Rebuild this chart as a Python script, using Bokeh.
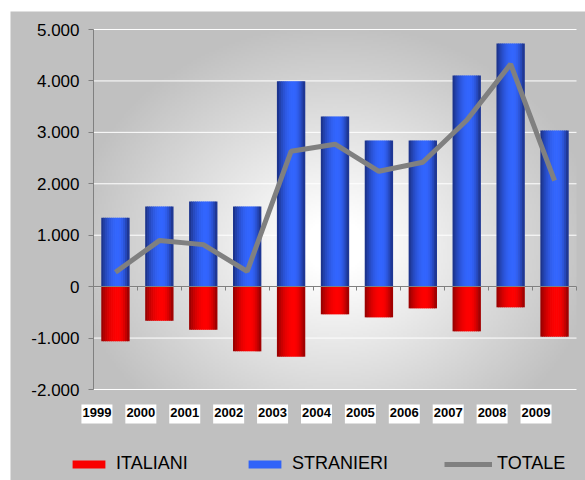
import numpy as np
from bokeh.plotting import figure
from bokeh.models import ColumnDataSource, FixedTicker, Range1d, Legend, LegendItem, LinearAxis
from bokeh.transform import dodge
from bokeh.embed import file_html
from bokeh.resources import INLINE

# ---- data ----
years = ["1999", "2000", "2001", "2002", "2003", "2004", "2005", "2006", "2007", "2008", "2009"]
italiani = [-1064, -661, -837, -1258, -1362, -538, -597, -422, -869, -402, -973]
stranieri = [1342, 1556, 1654, 1556, 3994, 3307, 2840, 2840, 4105, 4728, 3035]
totale = [278, 895, 817, 298, 2632, 2769, 2243, 2418, 3236, 4326, 2062]
y_ticks = [-2000, -1000, 0, 1000, 2000, 3000, 4000, 5000]
y_tick_labels = ["-2.000", "-1.000", "0", "1.000", "2.000", "3.000", "4.000", "5.000"]

n = len(years)
Y_MIN, Y_MAX = -2000, 5000
centers = [i + 0.5 for i in range(n)]
bounds = [i for i in range(n)]
src = ColumnDataSource(dict(x=centers, years=years, italiani=italiani,
                            stranieri=stranieri, totale=totale))

FONT = "Liberation Sans"
GRAY = "#c0c0c0"

# ---- layout (canvas pixels) ----
W, H = 575, 469
FX0 = 83            # canvas x of category axis start
PXC = 483 / n       # pixels per category
FY_TOP = 18         # canvas y of Y_MAX
DATA_H = 360        # pixel height of the value range
PXY = DATA_H / (Y_MAX - Y_MIN)
x_start = -FX0 / PXC
x_end = (W - FX0) / PXC
y_end = Y_MAX + FY_TOP / PXY
y_start = Y_MIN - (H - FY_TOP - DATA_H) / PXY

p = figure(width=W, height=H, output_backend="svg", toolbar_location=None,
           x_range=Range1d(x_start, x_end), y_range=Range1d(y_start, y_end),
           min_border=0, min_border_left=0, min_border_right=0,
           min_border_top=0, min_border_bottom=0)
p.styles = {"margin-left": "10px", "margin-top": "11px"}
p.background_fill_color = GRAY
p.border_fill_color = GRAY
p.outline_line_color = None
p.xgrid.visible = False
p.ygrid.visible = False

# radial background gradient of the plot area
IH, IW = 180, 240
yy, xx = np.mgrid[0:IH, 0:IW]
fx = (xx + 0.5) / IW
ftop = 1 - (yy + 0.5) / IH
r = np.sqrt(((fx - 0.5) / 0.55) ** 2 + ((ftop - 0.6) / 0.62) ** 2)
v = (255 - 63 * np.clip((r - 0.12) / 0.88, 0, 1)).astype(np.uint8)
img = np.empty((IH, IW), dtype=np.uint32)
view = img.view(dtype=np.uint8).reshape((IH, IW, 4))
view[..., 0] = v
view[..., 1] = v
view[..., 2] = v
view[..., 3] = 255
p.image_rgba(image=[img], x=0, y=Y_MIN, dw=n, dh=Y_MAX - Y_MIN, level="image")

# horizontal grid lines (only over the plot area)
p.segment(x0=0, x1=n, y0=y_ticks, y1=y_ticks, line_color="white", line_width=1)

# gradient bars built from strips
bw = 0.63
N = 14

def grad(dark, bright, u):
    if u < 0.6:
        t = 1 - ((u - 0.6) / 0.6) ** 2
    else:
        t = 1 - ((u - 0.6) / 0.4) ** 2
    c = [int(d + (b - d) * t) for d, b in zip(dark, bright)]
    return "#%02x%02x%02x" % tuple(c)

red_r = []
blue_r = []
for k in range(N):
    u = (k + 0.5) / N
    off = -bw / 2 + u * bw
    sw = bw / N * 1.35
    blue_r.append(p.vbar(x=dodge("x", off, range=p.x_range), top="stranieri", bottom=0, width=sw,
                         source=src, fill_color=grad((0x1a, 0x2e, 0x80), (0x33, 0x66, 0xff), u),
                         line_color=None))
    red_r.append(p.vbar(x=dodge("x", off, range=p.x_range), top=0, bottom="italiani", width=sw,
                        source=src, fill_color=grad((0x90, 0x00, 0x00), (0xff, 0x00, 0x00), u),
                        line_color=None))

line_r = p.line(x="x", y="totale", source=src, line_width=5, line_color="#808080")

# value axis at category start
p.yaxis.fixed_location = 0
p.yaxis.bounds = (Y_MIN, Y_MAX)
p.yaxis.ticker = FixedTicker(ticks=y_ticks)
p.yaxis.major_label_overrides = {t: l for t, l in zip(y_ticks, y_tick_labels)}
p.yaxis.major_label_text_font = FONT
p.yaxis.major_label_text_font_size = "17px"
p.yaxis.major_label_text_color = "black"
p.yaxis.major_label_standoff = 9
p.yaxis.axis_line_color = "#808080"
p.yaxis.major_tick_line_color = "#808080"
p.yaxis.major_tick_in = 0
p.yaxis.major_tick_out = 5
p.yaxis.minor_tick_line_color = None

# category axis line at zero with boundary ticks
p.xaxis.fixed_location = 0
p.xaxis.bounds = (0, n)
p.xaxis.ticker = FixedTicker(ticks=[], minor_ticks=bounds + [n])
p.xaxis.axis_line_color = "#808080"
p.xaxis.minor_tick_line_color = "#808080"
p.xaxis.minor_tick_in = 0
p.xaxis.minor_tick_out = 4
p.xaxis.major_tick_line_color = None

# year labels axis at the bottom of the value range, with white boxes
LAB_OFF = 0.078125
lab_x = [b + LAB_OFF for b in bounds]
box_y = Y_MIN - 24.5 / PXY
p.rect(x=lab_x, y=box_y, width=31, height=19, width_units="screen", height_units="screen",
       fill_color="white", line_color=None)
year_axis = LinearAxis(fixed_location=Y_MIN, ticker=FixedTicker(ticks=lab_x),
                       major_label_overrides={x: yr for x, yr in zip(lab_x, years)},
                       axis_line_color=None, major_tick_line_color=None,
                       minor_tick_line_color=None, major_tick_in=0, major_tick_out=0,
                       major_label_standoff=18, major_label_text_font=FONT,
                       major_label_text_font_size="13px", major_label_text_font_style="bold",
                       major_label_text_color="black")
p.add_layout(year_axis, "below")

# legends
def mk_legend(label, rend, x, gw, standoff):
    lg = Legend(items=[LegendItem(label=label, renderers=[rend])], location=(x, 6),
                orientation="horizontal", glyph_width=gw, glyph_height=10, label_height=20,
                label_standoff=standoff, label_text_font=FONT, label_text_font_size="18px",
                label_text_color="black", padding=0, margin=0, border_line_color=None,
                background_fill_alpha=0, spacing=0)
    p.add_layout(lg, "center")

mk_legend("ITALIANI", red_r[6], 58, 41, 7)
mk_legend("STRANIERI", blue_r[6], 234, 41, 7)
mk_legend("TOTALE", line_r, 434, 48, 5)

open("out.html", "w").write(file_html(p, INLINE))
